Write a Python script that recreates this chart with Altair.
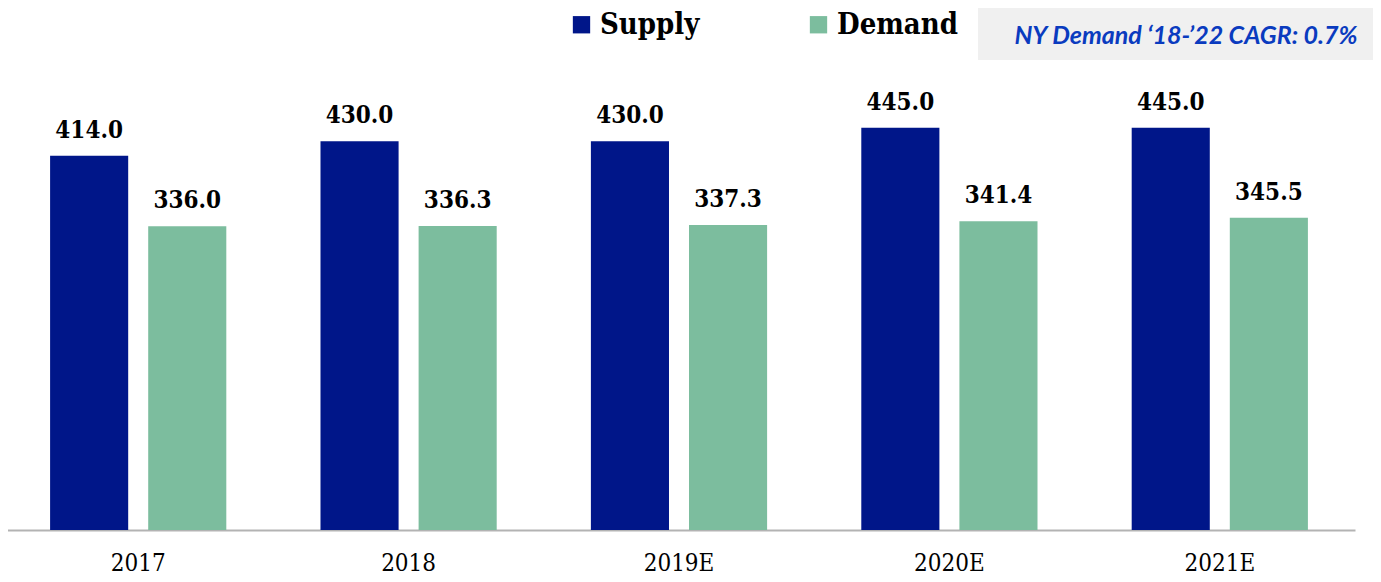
import altair as alt
import pandas as pd

years = ["2017", "2018", "2019E", "2020E", "2021E"]
supply = [414.0, 430.0, 430.0, 445.0, 445.0]
demand = [336.0, 336.3, 337.3, 341.4, 345.5]
series = ["Supply", "Demand"]
colors = ["#001689", "#7cbd9e"]
note = "NY Demand \u201818-\u201922 CAGR: 0.7%"

rows = []
for i, y in enumerate(years):
    rows.append({"year": y, "series": "Supply", "value": supply[i], "label": f"{supply[i]:.1f}"})
    rows.append({"year": y, "series": "Demand", "value": demand[i], "label": f"{demand[i]:.1f}"})
df = pd.DataFrame(rows)

SERIF = "DejaVu Serif Condensed, DejaVu Serif, serif"

base = alt.Chart(df).encode(
    x=alt.X("year:N", sort=years,
            scale=alt.Scale(paddingInner=0, paddingOuter=0),
            axis=alt.Axis(title=None, labelAngle=0, ticks=False, domainColor="#b3b3b3",
                          domainWidth=2, labelFont=SERIF, labelFontSize=24,
                          labelColor="#000000", labelPadding=21, grid=False)),
    xOffset=alt.XOffset("series:N", sort=series,
                        scale=alt.Scale(paddingInner=0.204, paddingOuter=0.48)),
)

bars = base.mark_bar().encode(
    y=alt.Y("value:Q", scale=alt.Scale(domain=[0, 500]), axis=None),
    color=alt.Color("series:N", sort=series,
                    scale=alt.Scale(domain=series, range=colors),
                    legend=alt.Legend(title=None, orient="none", legendX=564, legendY=-68,
                                      direction="horizontal", symbolType="square",
                                      symbolSize=300, symbolStrokeWidth=0,
                                      labelFont=SERIF, labelFontSize=29,
                                      labelFontWeight="bold", labelColor="#000000",
                                      labelOffset=4, columnPadding=104, padding=0,
                                      symbolOpacity=1)),
)

labels = base.mark_text(font=SERIF, fontSize=24, fontWeight="bold", color="#000000",
                        baseline="alphabetic", dy=-18).encode(
    y=alt.Y("value:Q", scale=alt.Scale(domain=[0, 500])),
    text="label:N",
)

box = alt.Chart(pd.DataFrame({"t": [note]})).mark_rect(color="#f0f0f0").encode(
    x=alt.value(975), x2=alt.value(1370), y=alt.value(-70), y2=alt.value(-18)
)
box_text = alt.Chart(pd.DataFrame({"t": [note]})).mark_text(
    font="Lato", fontSize=25, fontWeight="bold", fontStyle="italic", color="#0a3bbf",
    align="center", baseline="middle").encode(
    x=alt.value(1183), y=alt.value(-42), text="t:N"
)

chart = alt.layer(bars, labels, box, box_text).properties(
    width=1352, height=452,
    autosize=alt.AutoSizeParams(type="none"),
    padding={"left": -5, "top": 70, "right": 18, "bottom": 50},
).configure(background="white").configure_view(stroke=None, strokeWidth=0)

chart.save("out.html", embed_options={"renderer": "svg", "actions": False})
